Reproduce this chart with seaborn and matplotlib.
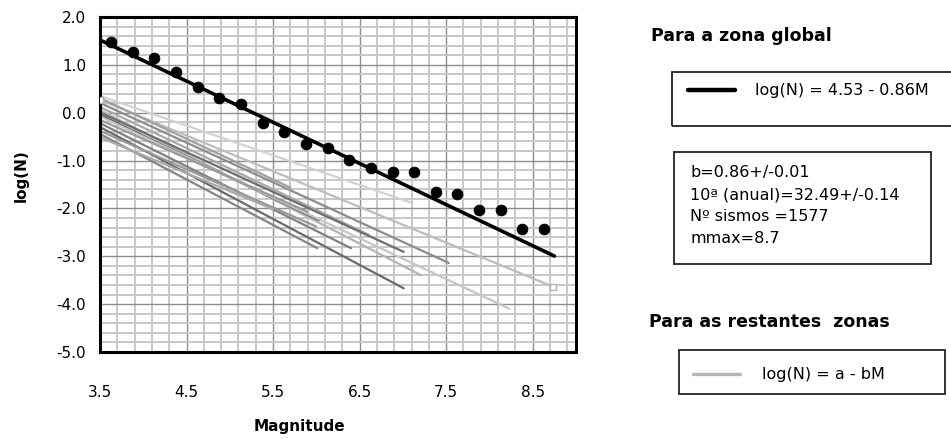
import numpy as np
import pandas as pd
import seaborn as sns
import matplotlib.pyplot as plt
from matplotlib.ticker import FixedLocator, FormatStrFormatter
from matplotlib.patches import Rectangle
from matplotlib.lines import Line2D

sns.set_style('white')
plt.rcParams['font.family'] = ['DejaVu Sans']
plt.rcParams['text.color'] = 'black'
plt.rcParams['axes.labelcolor'] = 'black'
plt.rcParams['xtick.color'] = 'black'
plt.rcParams['ytick.color'] = 'black'

# Zona global: pontos observados (Magnitude, log(N))
mag_global = [3.63, 3.88, 4.12, 4.38, 4.63, 4.88, 5.13, 5.38, 5.63, 5.88, 6.13,
              6.38, 6.63, 6.88, 7.13, 7.38, 7.63, 7.88, 8.13, 8.38, 8.63]
logn_global = [1.48, 1.27, 1.14, 0.85, 0.54, 0.31, 0.18, -0.21, -0.40, -0.65, -0.73,
               -0.99, -1.15, -1.24, -1.24, -1.65, -1.70, -2.03, -2.03, -2.43, -2.43]

# Recta da zona global: log(N) = a - bM
a_global = 4.53
b_global = 0.86
m_min = 3.5
m_max_global = 8.75

# Restantes zonas: log(N) = a - bM, entre m_min e mmax
zona_a = [2.52, 2.88, 3.11, 3.13, 3.31, 2.91, 3.00, 2.90, 2.65, 2.93, 3.06, 2.42, 2.88, 2.11, 3.28]
zona_b = [0.62, 0.746, 0.83, 0.86, 0.93, 0.83, 0.87, 0.85, 0.80, 0.90, 0.96, 0.80, 0.95, 0.75, 0.85]
zona_mmax = [7.10, 8.74, 7.53, 6.60, 7.21, 7.01, 6.03, 8.23, 5.90, 6.40, 7.01, 6.00, 6.01, 5.50, 5.70]
zona_cor = ['#d2d2d2', '#bdbdbd', '#8c8c8c', '#a8a8a8', '#b4b4b4', '#6e6e6e', '#5a5a5a', '#c6c6c6',
            '#9a9a9a', '#808080', '#6a6a6a', '#999999', '#858585', '#aaaaaa', '#a0a0a0']

rows = []
for i, (a, b, mx) in enumerate(zip(zona_a, zona_b, zona_mmax)):
    for m in (m_min, mx):
        rows.append({'zona': f'Z{i}', 'M': m, 'logN': a - b * m})
zonas = pd.DataFrame(rows)
paleta = {f'Z{i}': c for i, c in enumerate(zona_cor)}

glob = pd.DataFrame({'M': [m_min, m_max_global]})
glob['logN'] = a_global - b_global * glob['M']

fig = plt.figure(figsize=(9.51, 4.41), dpi=100)
ax = fig.add_axes([100 / 951, 1 - 352 / 441, 476 / 951, 335 / 441])

sns.lineplot(data=zonas, x='M', y='logN', hue='zona', palette=paleta, legend=False,
             estimator=None, sort=False, lw=1.6, ax=ax)
# pequenos quadrados nos extremos da zona com maior mmax
i_sq = int(np.argmax(zona_mmax))
sq = zonas[zonas['zona'] == f'Z{i_sq}']
ax.plot(sq['M'], sq['logN'], ls='none', marker='s', ms=4, mfc='white', mec='#b0b0b0', mew=1, zorder=4)

sns.lineplot(data=glob, x='M', y='logN', color='black', lw=2.6, ax=ax, zorder=5)
sns.scatterplot(x=mag_global, y=logn_global, color='black', s=60, edgecolor='black', ax=ax, zorder=6)

ax.set_xlim(3.5, 9.0)
ax.set_ylim(-5.0, 2.0)
ax.xaxis.set_major_locator(FixedLocator(np.arange(3.5, 8.6, 1.0)))
ax.xaxis.set_minor_locator(FixedLocator(np.arange(3.5, 9.01, 0.2)))
ax.yaxis.set_major_locator(FixedLocator(np.arange(-5, 2.1, 1.0)))
ax.yaxis.set_minor_locator(FixedLocator(np.arange(-5, 2.01, 0.2)))
ax.xaxis.set_major_formatter(FormatStrFormatter('%.1f'))
ax.yaxis.set_major_formatter(FormatStrFormatter('%.1f'))
ax.grid(which='minor', color='#c8c8c8', lw=1.4)
ax.grid(which='major', color='#8e8e8e', lw=1.0)
ax.set_axisbelow(True)
for s in ax.spines.values():
    s.set_color('black')
    s.set_linewidth(2.2)
ax.tick_params(which='minor', length=0)
ax.tick_params(which='major', direction='out', length=4, width=1.5, color='black', labelsize=11)
ax.tick_params(axis='x', pad=20)
ax.tick_params(axis='y', pad=6)

ax.set_xlabel('Magnitude', fontsize=11, fontweight='bold')
ax.set_ylabel('log(N)', fontsize=11, fontweight='bold')
ax.xaxis.set_label_coords(0.418, -0.20)
ax.yaxis.set_label_coords(-0.15, 0.525)


def fx(px):
    return px / 951


def fy(py):
    return 1 - py / 441


# Painel da direita
fig.text(fx(651), fy(36), 'Para a zona global', fontsize=12.5, fontweight='bold', va='center')
fig.add_artist(Rectangle((fx(672), fy(126)), fx(290), 54 / 441, transform=fig.transFigure,
                         fill=False, ec='#222222', lw=1.3))
fig.add_artist(Line2D([fx(688), fx(735)], [fy(90), fy(90)], color='black', lw=3.2))
fig.text(fx(755), fy(90), 'log(N) = 4.53 - 0.86M', fontsize=11.5, va='center')

fig.add_artist(Rectangle((fx(674), fy(264)), fx(257), 112 / 441, transform=fig.transFigure,
                         fill=False, ec='#222222', lw=1.3))
stats = ['b=0.86+/-0.01', '10ª (anual)=32.49+/-0.14', 'Nº sismos =1577', 'mmax=8.7']
for k, t in enumerate(stats):
    fig.text(fx(690), fy(177 + 22 * k), t, fontsize=11.5, va='baseline')

fig.text(fx(649), fy(322), 'Para as restantes  zonas', fontsize=12.5, fontweight='bold', va='center')
fig.add_artist(Rectangle((fx(679), fy(394)), fx(266), 44 / 441, transform=fig.transFigure,
                         fill=False, ec='#222222', lw=1.3))
fig.add_artist(Line2D([fx(693), fx(740)], [fy(374), fy(374)], color='#b4b4b4', lw=2.4))
fig.text(fx(762), fy(374), 'log(N) = a - bM', fontsize=11.5, va='center')

fig.savefig('out.png', dpi=100)
